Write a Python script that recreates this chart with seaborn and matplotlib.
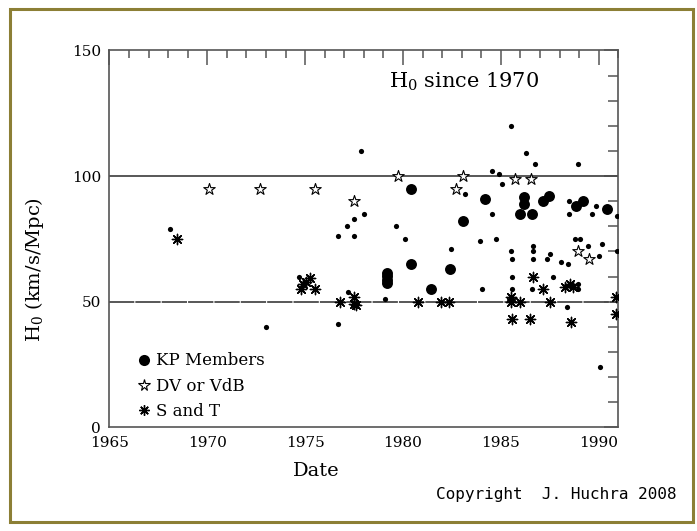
import matplotlib
matplotlib.use("Agg")
import matplotlib.pyplot as plt
from matplotlib.lines import Line2D
from matplotlib.patches import Rectangle
from matplotlib.ticker import MultipleLocator
import seaborn as sns
import pandas as pd

# ---------------- data ----------------
other_year = [1968.1, 1973.0, 1974.7, 1976.7, 1976.7, 1977.15, 1977.2, 1977.5, 1977.5,
              1977.85, 1978.0, 1979.1, 1979.65, 1980.1, 1982.45, 1983.15, 1983.95,
              1984.05, 1984.55, 1984.55, 1984.75, 1984.9, 1985.05, 1985.5, 1985.5,
              1985.55, 1985.55, 1985.55, 1986.3, 1986.65, 1986.65, 1986.65, 1986.6,
              1986.75, 1987.35, 1987.5, 1987.65, 1988.05, 1988.45, 1988.4, 1988.5,
              1988.5, 1988.95, 1988.95, 1988.8, 1989.05, 1988.95, 1989.45, 1989.65,
              1989.85, 1990.0, 1990.15, 1990.05, 1990.95, 1990.95]
other_h0 = [79, 40, 60, 76, 41, 80, 54, 83, 76,
            110, 85, 51, 80, 75, 71, 93, 74,
            55, 102, 85, 75, 101, 97, 120, 70,
            67, 60, 55, 109, 72, 70, 67, 55,
            105, 67, 69, 60, 66, 65, 48, 90,
            85, 57, 55, 75, 75, 105, 72, 85,
            88, 68, 73, 24, 84, 70]

kp_year = [1979.2, 1979.2, 1979.2, 1979.2, 1980.4, 1980.4, 1981.45, 1982.4, 1983.05,
           1984.2, 1986.2, 1986.2, 1986.0, 1986.6, 1987.15, 1987.45, 1988.85, 1989.2,
           1990.4]
kp_h0 = [57.5, 58.8, 60.2, 61.3, 95, 65, 55, 63, 82,
         91, 91.5, 89, 85, 85, 90, 92, 88, 90,
         87]

dv_year = [1970.1, 1972.7, 1975.5, 1977.5, 1979.75, 1982.7, 1983.05, 1985.7, 1986.55,
           1988.95, 1989.5]
dv_h0 = [95, 95, 95, 90, 100, 95, 100, 99, 99, 70, 67]

st_year = [1968.45, 1974.8, 1974.9, 1975.05, 1975.25, 1975.5, 1976.8, 1977.5, 1977.5,
           1977.6, 1980.75, 1981.95, 1982.35, 1985.5, 1985.5, 1986.0, 1985.55, 1986.5,
           1986.65, 1987.15, 1987.5, 1988.3, 1988.55, 1988.7, 1988.6, 1990.9, 1990.9]
st_h0 = [75, 55, 57, 58, 59.5, 55, 50, 52, 49,
         48.5, 50, 50, 50, 52, 50, 50, 43, 43,
         60, 55, 50, 56, 57, 56, 42, 52, 45]

reference_h0 = [100, 50]
legend_labels = ["KP Members", "DV or VdB", "S and T"]
title_text = r"H$_0$ since 1970"
x_label = "Date"
y_label = r"H$_0$ (km/s/Mpc)"
credit = "Copyright  J. Huchra 2008"

# ---------------- style ----------------
sns.set_theme(style="white")
plt.rcParams["font.family"] = ["DejaVu Serif"]
plt.rcParams["mathtext.fontset"] = "dejavuserif"
plt.rcParams["text.color"] = "black"

fig = plt.figure(figsize=(6.97, 5.31), dpi=100)
fig.patch.set_facecolor("white")
ax = fig.add_axes([0.1571, 0.1953, 0.7300, 0.7096])
ax.set_facecolor("white")

line_col = "#4a4a4a"
ax.axhline(reference_h0[0], color=line_col, lw=1.3, zorder=1)
ax.axhline(reference_h0[1], color=line_col, lw=1.3, ls=(0, (14, 0.6)), zorder=1)

df_other = pd.DataFrame({"year": other_year, "h0": other_h0})
df_kp = pd.DataFrame({"year": kp_year, "h0": kp_h0})
df_dv = pd.DataFrame({"year": dv_year, "h0": dv_h0})
df_st = pd.DataFrame({"year": st_year, "h0": st_h0})

sns.scatterplot(data=df_other, x="year", y="h0", ax=ax, marker="o", s=14,
                color="black", linewidth=0, zorder=3)
sns.scatterplot(data=df_kp, x="year", y="h0", ax=ax, marker="o", s=62,
                color="black", linewidth=0, zorder=3)
sns.scatterplot(data=df_dv, x="year", y="h0", ax=ax, marker="*", s=75,
                color="white", edgecolor="black", linewidth=0.8, zorder=4)
sns.scatterplot(data=df_st, x="year", y="h0", ax=ax, marker=(8, 2, 0), s=55,
                color="black", edgecolor="black", linewidth=1.0, zorder=4)

ax.set_xlim(1965, 1991)
ax.set_ylim(0, 150)
ax.xaxis.set_major_locator(MultipleLocator(5))
ax.xaxis.set_minor_locator(MultipleLocator(1))
ax.yaxis.set_major_locator(MultipleLocator(50))
ax.yaxis.set_minor_locator(MultipleLocator(10))

ax.tick_params(axis="both", which="both", direction="in", top=True, right=True,
               color="#555555", width=1.1, labelsize=11, labelcolor="black")
ax.tick_params(axis="x", which="major", length=10.5, pad=6)
ax.tick_params(axis="x", which="minor", length=5.5)
ax.tick_params(axis="y", which="major", length=10, pad=6)
ax.tick_params(axis="y", which="minor", length=7)
for sp in ax.spines.values():
    sp.set_color("#555555")
    sp.set_linewidth(1.2)

ax.set_xlabel(x_label, fontsize=14, color="black")
ax.set_ylabel(y_label, fontsize=14, color="black")
ax.xaxis.set_label_coords(0.406, -0.092)
ax.yaxis.set_label_coords(-0.124, 0.42)

ax.text(1979.3, 137.4, title_text, fontsize=15, ha="left", va="center", color="black")

handles = [
    Line2D([], [], ls="", marker="o", color="black", markersize=8, markeredgewidth=0),
    Line2D([], [], ls="", marker="*", markerfacecolor="white", markeredgecolor="black",
           markersize=8.5, markeredgewidth=0.8),
    Line2D([], [], ls="", marker=(8, 2, 0), color="black", markersize=7.5,
           markeredgewidth=1.0),
]
ax.legend(handles, legend_labels, loc="lower left", bbox_to_anchor=(0.0546, 0.019),
          frameon=False, fontsize=12, handlelength=0.8, handletextpad=0.3,
          borderpad=0, borderaxespad=0, labelspacing=0.5, labelcolor="black")

fig.text(677 / 697, 1 - 495 / 531, credit, fontsize=11.5, ha="right", va="center",
         family=["DejaVu Sans Mono"], color="black")

fig.patches.append(Rectangle((10 / 697, 9 / 531), 683 / 697, 513 / 531,
                             transform=fig.transFigure, fill=False,
                             edgecolor="#8c7f35", linewidth=2.2, zorder=10))

fig.savefig("out.png", dpi=100, facecolor="white")
